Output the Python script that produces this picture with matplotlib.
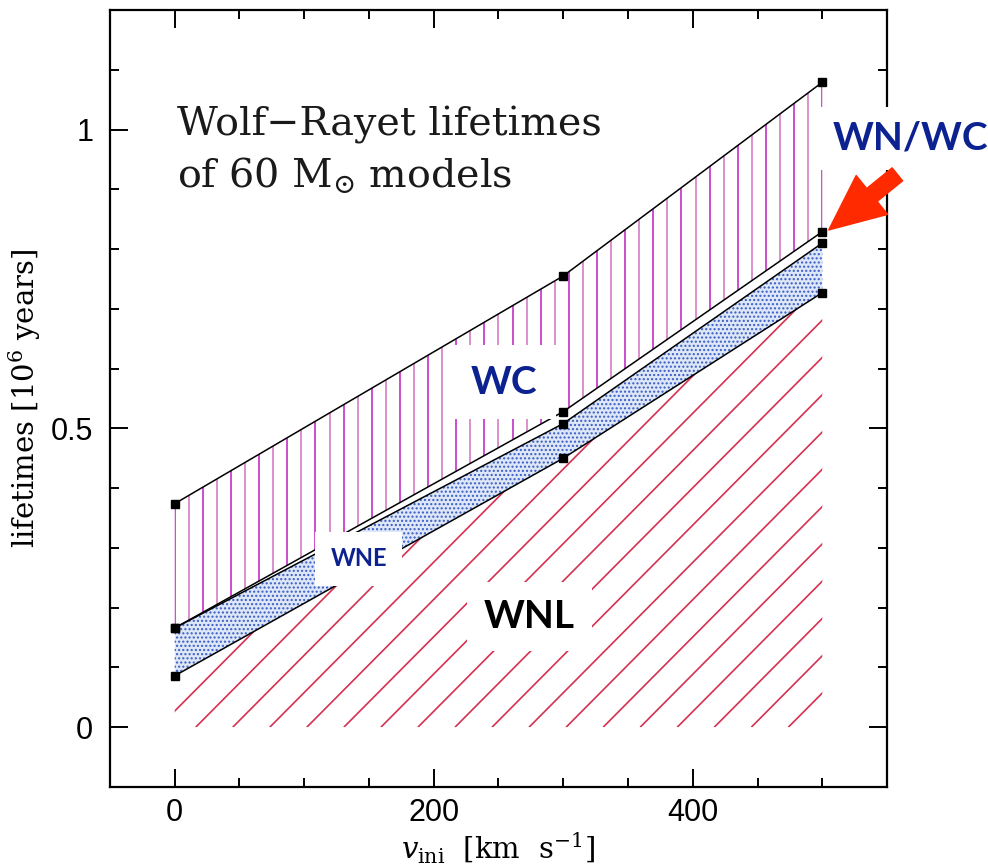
import numpy as np
import matplotlib
matplotlib.use("Agg")
import matplotlib.pyplot as plt
from matplotlib.collections import LineCollection
from matplotlib.ticker import MultipleLocator, FixedLocator, FixedFormatter

# initial rotation velocities of the models (km/s)
v_ini = [0, 300, 500]
# cumulative ages (Myr) at which each WR sub-phase ends
wnl_end = [0.086, 0.450, 0.727]
wne_end = [0.166, 0.508, 0.810]
wnwc_end = [0.166, 0.528, 0.829]
wc_end = [0.374, 0.755, 1.079]

ytick_vals = [0, 0.5, 1]
ytick_labels = ["0", "0.5", "1"]
xtick_vals = [0, 200, 400]
xtick_labels = ["0", "200", "400"]

BLUE = "#0c2290"

plt.rcParams["mathtext.fontset"] = "dejavuserif"

fig = plt.figure(figsize=(9.88, 8.67), dpi=100)
ax = fig.add_axes([0.1113, 0.0923, 0.7865, 0.8962])
ax.set_xlim(-50, 550)
ax.set_ylim(-0.1, 1.2)


def hatch_lines(poly, segs, colors, lw):
    lc = LineCollection(segs, colors=colors, linewidths=lw, zorder=1.5)
    ax.add_collection(lc)
    lc.set_clip_path(poly.get_paths()[0], ax.transData)


# WNL: red diagonal hatching down to zero
wnl_poly = ax.fill_between(v_ini, 0, wnl_end, facecolor="none", edgecolor="none")
slope = (1.3 / 596)  # 45 degrees on screen
segs = []
for x0 in np.arange(-12.4 - 28.6 * 20, 560, 28.6):
    segs.append([(x0, 0), (x0 + 0.9 / slope, 0.9)])
hatch_lines(wnl_poly, segs, "#d63050", 1.2)

# WNE: dotted blue band
ax.fill_between(v_ini, wnl_end, wne_end, facecolor="#dde7f7", edgecolor="#3a5cc4",
                linewidth=0, hatch="....", zorder=1.2)

# WC: vertical magenta hatching
wc_poly = ax.fill_between(v_ini, wnwc_end, wc_end, facecolor="none", edgecolor="none")
xs = np.linspace(0, 500, 47)
segs = [[(x, 0), (x, 1.2)] for x in xs]
cols = ["#c840cc" if i % 2 == 0 else "#d888c8" for i in range(len(xs))]
hatch_lines(wc_poly, segs, cols, 1.3)

# phase boundaries with model points
for ends in (wnl_end, wne_end, wnwc_end, wc_end):
    ax.plot(v_ini, ends, color="black", lw=1.1, marker="s", ms=5.5,
            mec="black", mfc="black", zorder=3)

# annotations
ax.text(2, 1.04, "Wolf\u2212Rayet lifetimes\nof 60 M$_{\\odot}$ models",
        family="DejaVu Serif", fontsize=28.5, ha="left", va="top",
        linespacing=1.35, color="#1a1a1a")

ax.text(254, 0.577, "WC", family="Lato", weight="bold", fontsize=28, color=BLUE,
        ha="center", va="center", bbox=dict(facecolor="white", edgecolor="none", pad=14),
        zorder=4)
ax.text(142, 0.282, "WNE", family="Lato", weight="bold", fontsize=17, color=BLUE,
        ha="center", va="center", bbox=dict(facecolor="white", edgecolor="none", pad=11),
        zorder=4)
ax.text(274, 0.185, "WNL", family="Lato", weight="bold", fontsize=28, color="black",
        ha="center", va="center", bbox=dict(facecolor="white", edgecolor="none", pad=12),
        zorder=4)
ax.text(568, 0.985, "WN/WC", family="Lato", weight="bold", fontsize=28, color=BLUE,
        ha="center", va="center", bbox=dict(facecolor="white", edgecolor="none", pad=10),
        clip_on=False, zorder=4)
ax.annotate("", xy=(505, 0.832), xytext=(558, 0.925),
            arrowprops=dict(arrowstyle="simple,head_length=2.0,head_width=1.8,tail_width=0.6",
                            color="#ff2a00", mutation_scale=20, shrinkA=0, shrinkB=0),
            annotation_clip=False, zorder=4)

# axes styling
ax.xaxis.set_major_locator(FixedLocator(xtick_vals))
ax.xaxis.set_major_formatter(FixedFormatter(xtick_labels))
ax.yaxis.set_major_locator(FixedLocator(ytick_vals))
ax.yaxis.set_major_formatter(FixedFormatter(ytick_labels))
ax.xaxis.set_minor_locator(MultipleLocator(50))
ax.yaxis.set_minor_locator(MultipleLocator(0.1))
ax.tick_params(which="both", direction="in", top=True, right=True, width=1.4)
ax.tick_params(which="major", length=13)
ax.tick_params(which="minor", length=6.5)
ax.tick_params(axis="y", pad=12, labelsize=22)
ax.tick_params(axis="x", pad=8, labelsize=22)
for lab in ax.get_xticklabels() + ax.get_yticklabels():
    lab.set_family("Liberation Sans")
for sp in ax.spines.values():
    sp.set_linewidth(1.6)

ax.set_xlabel("$v_{\\rm ini}$  [km  s$^{-1}$]", family="DejaVu Serif", fontsize=21, labelpad=2)
ax.set_ylabel("lifetimes [10$^{6}$ years]", family="DejaVu Serif", fontsize=21, labelpad=6)

fig.savefig("out.png", dpi=100)
